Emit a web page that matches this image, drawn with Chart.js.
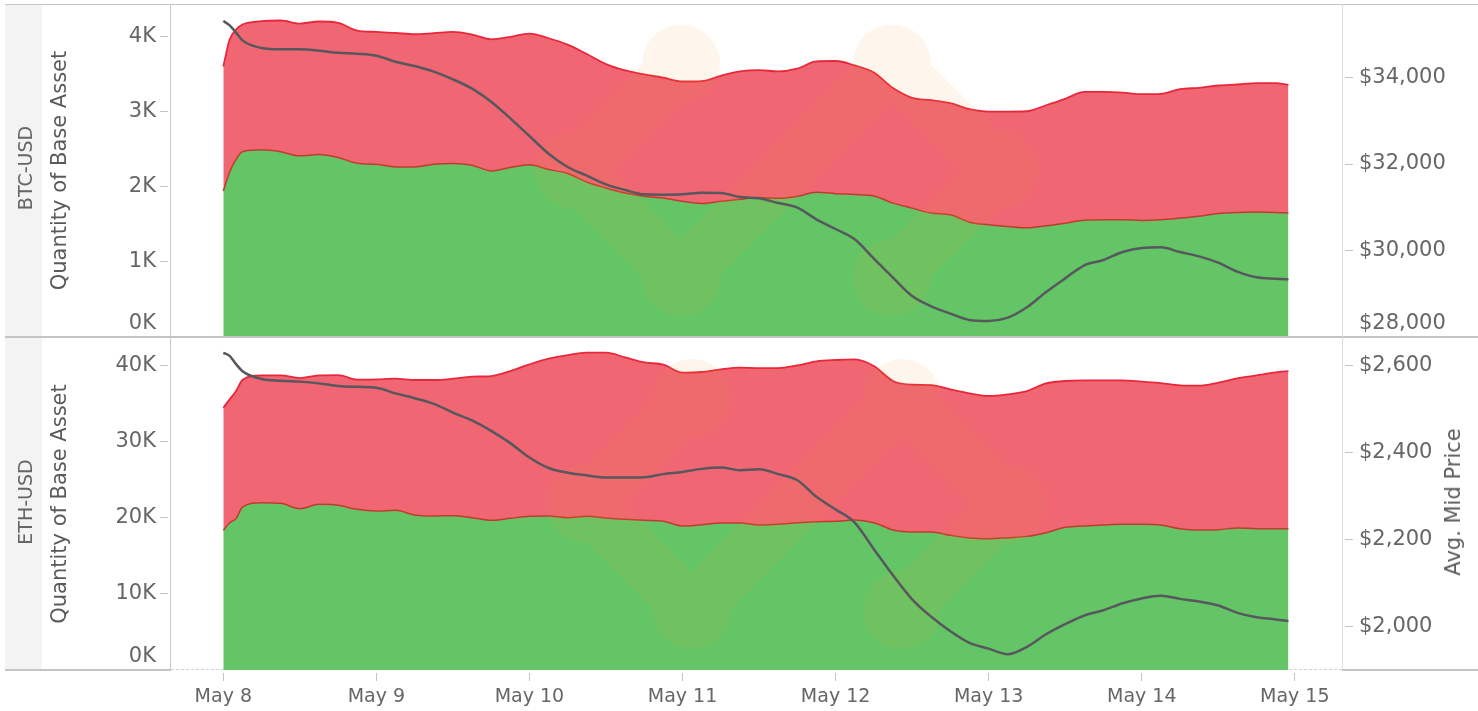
<!DOCTYPE html>
<html>
<head>
<meta charset="utf-8">
<script src="https://cdn.jsdelivr.net/npm/chart.js@4.4.1/dist/chart.umd.min.js"></script>
<style>
  html, body { margin: 0; padding: 0; background: #fff; }
  #wrap { position: relative; width: 1478px; height: 711px; overflow: hidden; font-family: "DejaVu Sans", sans-serif; }
  #wrap canvas { position: absolute; left: 0; }
  .strip { position: absolute; left: 5px; top: 4px; width: 37px; height: 666px; background: #f3f3f3; }
  .rule { position: absolute; background: #c4c4c4; z-index: 3; }
  .dashed { position: absolute; border-top: 1px dashed #d0d0d0; height: 0; }
  .vtext { position: absolute; white-space: nowrap; transform: translate(-50%, -50%) rotate(-90deg); z-index: 4; }
  .rowlabel { font-size: 19px; color: #666; }
  .axtitle { font-size: 21px; color: #5a5a5a; }
</style>
</head>
<body>
<div id="wrap">
  <div class="strip"></div>
  <div class="dashed" style="left:171px; top:669px; width:1171px;"></div>
  <canvas id="btc" width="1478" height="338" style="top:0"></canvas>
  <canvas id="eth" width="1478" height="374" style="top:337px"></canvas>

  <div class="rule" style="left:5px; top:4px; width:1473px; height:1px;"></div>
  <div class="rule" style="left:5px; top:336px; width:1473px; height:2px;"></div>
  <div class="rule" style="left:5px; top:669px; width:166px; height:2px;"></div>
  <div class="rule" style="left:1342px; top:669px; width:136px; height:2px;"></div>
  <div class="rule" style="left:170px; top:4px; width:1px; height:666px; background:#c8c8c8;"></div>
  <div class="rule" style="left:1342px; top:4px; width:1px; height:666px; background:#dcdcdc;"></div>

  <div class="vtext rowlabel" style="left:25px; top:168px;">BTC-USD</div>
  <div class="vtext rowlabel" style="left:25px; top:502px;">ETH-USD</div>
  <div class="vtext axtitle" style="left:1453px; top:502px;">Avg. Mid Price</div>
</div>
<script>
// hours since May 8 00:00
const hours = [0, 1, 2, 3, 6, 9, 12, 15, 18, 21, 24, 27, 30, 33, 36, 39, 42, 45, 48, 51,
  54, 57, 60, 63, 66, 69, 72, 75, 78, 81, 84, 87, 90, 93, 96, 99, 102, 105, 108, 111,
  114, 117, 120, 123, 126, 129, 132, 135, 138, 141, 144, 147, 150, 153, 156, 159, 162, 165, 167];

const dayTicks = [0, 24, 48, 72, 96, 120, 144, 168];
const dayLabels = ['May 8', 'May 9', 'May 10', 'May 11', 'May 12', 'May 13', 'May 14', 'May 15'];

// BTC-USD
const btcBid = [1944, 2198, 2364, 2466, 2492, 2466, 2412, 2431, 2391, 2314, 2301, 2265, 2265, 2301, 2310, 2288, 2211, 2257, 2292, 2230,
  2177, 2064, 1984, 1917, 1873, 1850, 1806, 1779, 1806, 1833, 1856, 1846, 1873, 1926, 1909, 1896, 1877, 1783, 1716, 1650,
  1628, 1529, 1494, 1472, 1454, 1481, 1516, 1556, 1561, 1561, 1552, 1561, 1583, 1609, 1645, 1659, 1663, 1659, 1650];
const btcAsk = [1659, 1762, 1730, 1695, 1713, 1748, 1762, 1770, 1792, 1766, 1761, 1784, 1766, 1744, 1752, 1739, 1753, 1739, 1748, 1748,
  1716, 1704, 1650, 1633, 1623, 1602, 1596, 1628, 1672, 1703, 1698, 1690, 1699, 1744, 1766, 1720, 1646, 1531, 1468, 1503,
  1485, 1504, 1507, 1529, 1552, 1605, 1655, 1708, 1703, 1694, 1681, 1676, 1717, 1709, 1704, 1703, 1717, 1721, 1708];
const btcMid = [35306, 35206, 35037, 34859, 34682, 34651, 34651, 34620, 34574, 34551, 34505, 34366, 34266, 34135, 33958, 33742, 33441, 33056, 32647, 32239,
  31931, 31730, 31530, 31399, 31298, 31291, 31298, 31337, 31329, 31237, 31206, 31098, 30990, 30721, 30497, 30258, 29811, 29372, 28948, 28709,
  28540, 28393, 28370, 28447, 28686, 29040, 29356, 29657, 29780, 29965, 30058, 30073, 29965, 29865, 29719, 29511, 29380, 29349, 29333];
const btcQtyTicks = [0, 1000, 2000, 3000, 4000];
const btcPriceTicks = [28000, 30000, 32000, 34000];

// ETH-USD
const ethBid = [18350, 19360, 19890, 21420, 21990, 21900, 21200, 21770, 21640, 21110, 20890, 20980, 20370, 20240, 20280, 20020, 19670, 19930, 20190, 20240,
  20020, 20190, 19970, 19800, 19670, 19540, 18920, 19100, 19320, 19320, 19050, 19140, 19360, 19490, 19540, 19710, 19360, 18400, 18130, 18130,
  17700, 17350, 17260, 17390, 17560, 18050, 18750, 18920, 19050, 19140, 19140, 19050, 18570, 18400, 18440, 18660, 18570, 18570, 18570];
const ethAsk = [16120, 16210, 16770, 16690, 16730, 16820, 17170, 16950, 17120, 17040, 17300, 17300, 17740, 17870, 18000, 18530, 18960, 19360, 19970, 20670,
  21370, 21510, 21730, 21280, 20760, 20580, 20150, 20060, 20190, 20410, 20630, 20540, 20670, 21070, 21200, 21110, 20590, 19580, 19370, 19320,
  19180, 19000, 18750, 18830, 19100, 19620, 19230, 19140, 19010, 18920, 18750, 18660, 18840, 18960, 19320, 19670, 20150, 20540, 20720];
const ethMid = [2628, 2621, 2602, 2586, 2568, 2564, 2562, 2558, 2552, 2550, 2548, 2535, 2524, 2511, 2491, 2473, 2449, 2421, 2388, 2364,
  2353, 2347, 2342, 2342, 2343, 2350, 2355, 2362, 2365, 2359, 2361, 2350, 2336, 2298, 2269, 2239, 2178, 2118, 2063, 2023,
  1990, 1963, 1950, 1937, 1954, 1983, 2006, 2026, 2038, 2054, 2065, 2071, 2064, 2058, 2049, 2032, 2022, 2017, 2013];
const ethQtyTicks = [0, 10000, 20000, 30000, 40000];
const ethPriceTicks = [2000, 2200, 2400, 2600];

const FONT = 'DejaVu Sans';
const TEXT = '#666';
const TICK_GREY = '#c4c4c4';

const xy = (values) => values.map((v, i) => ({x: hours[i], y: v}));
const fixedTicks = (values) => (s) => { s.ticks = values.map((v) => ({value: v})); };

// faint "</>" logo behind the price line, drawn opaque offscreen then blended once
const watermark = {
  id: 'watermark',
  beforeDatasetDraw(chart, args, opts) {
    if (args.index !== 0) return;
    const a = chart.chartArea;
    const cy = (a.top + a.bottom) / 2;
    const x1 = a.left + opts.dx1;
    const x2 = a.left + opts.dx2;
    const r = opts.r;
    const pts = [
      [x1, cy - r], [x1 - r, cy], [x1, cy + r],
      [x2, cy - r], [x2 + r, cy], [x2, cy + r],
    ];
    const off = document.createElement('canvas');
    off.width = chart.width;
    off.height = chart.height;
    const o = off.getContext('2d');
    o.strokeStyle = o.fillStyle = 'rgb(235, 155, 45)';
    o.lineWidth = 54;
    o.lineCap = 'round';
    o.lineJoin = 'round';
    o.beginPath();
    pts.forEach(([x, y], i) => (i ? o.lineTo(x, y) : o.moveTo(x, y)));
    o.stroke();
    pts.forEach(([x, y]) => { o.beginPath(); o.arc(x, y, 39, 0, Math.PI * 2); o.fill(); });

    const ctx = chart.ctx;
    ctx.save();
    ctx.beginPath();
    ctx.rect(a.left, a.top, a.right - a.left, a.bottom - a.top);
    ctx.clip();
    ctx.globalAlpha = 0.09;
    ctx.drawImage(off, 0, 0);
    ctx.restore();
  }
};

function makeChart(id, p) {
  return new Chart(document.getElementById(id), {
    type: 'line',
    data: {
      datasets: [
        {
          label: 'Avg. Mid Price',
          data: xy(p.mid),
          yAxisID: 'price',
          borderColor: '#57575e',
          borderWidth: 2.5,
          fill: false,
        },
        {
          label: 'Bid',
          data: xy(p.bid),
          yAxisID: 'qty',
          backgroundColor: '#64c566',
          borderColor: '#c23a2e',
          borderWidth: 1.5,
          fill: 'origin',
        },
        {
          label: 'Ask',
          data: xy(p.ask),
          yAxisID: 'qty',
          backgroundColor: '#f06673',
          borderColor: '#e8283a',
          borderWidth: 1.8,
          fill: '-1',
        },
      ],
    },
    options: {
      responsive: false,
      animation: false,
      devicePixelRatio: 1,
      layout: {
        autoPadding: false,
        padding: {top: p.padTop, bottom: p.padBottom, left: 42, right: 0},
      },
      elements: {
        point: {radius: 0},
        line: {cubicInterpolationMode: 'monotone'},
      },
      plugins: {
        legend: {display: false},
        tooltip: {enabled: false},
        watermark: {dx1: p.dx1, dx2: p.dx2, r: p.r},
      },
      scales: {
        x: {
          type: 'linear',
          min: -8.2,
          max: 175.4,
          display: p.showX,
          afterBuildTicks: fixedTicks(dayTicks),
          afterFit: (s) => {
            if (p.showX) s.height = 41;
            s.paddingLeft = 0;
            s.paddingRight = 0;
          },
          border: {display: false},
          grid: {drawOnChartArea: false, tickLength: 11, color: TICK_GREY, tickBorderDash: [8, 3], tickBorderDashOffset: 8},
          ticks: {
            autoSkip: false,
            maxRotation: 0,
            padding: 5,
            color: TEXT,
            font: {family: FONT, size: 19},
            callback: (v) => dayLabels[dayTicks.indexOf(v)],
          },
        },
        qty: {
          position: 'left',
          stacked: true,
          min: 0,
          max: p.qtyMax,
          afterBuildTicks: fixedTicks(p.qtyTicks),
          afterFit: (s) => { s.width = 129; s.paddingTop = 0; s.paddingBottom = 0; },
          border: {display: false},
          grid: {drawOnChartArea: false, tickLength: 11, color: TICK_GREY, tickBorderDash: [8, 3]},
          ticks: {
            padding: 4,
            color: TEXT,
            font: {family: FONT, size: 21, lineHeight: 1.3},
            callback: (v) => v === 0 ? ['0K', ''] : (v / 1000) + 'K',
          },
          title: {
            display: true,
            text: 'Quantity of Base Asset',
            color: '#5a5a5a',
            font: {family: FONT, size: 21},
            padding: {top: 6, bottom: 0},
          },
        },
        price: {
          position: 'right',
          min: p.priceMin,
          max: p.priceMax,
          afterBuildTicks: fixedTicks(p.priceTicks),
          afterFit: (s) => { s.width = 136; s.paddingTop = 0; s.paddingBottom = 0; },
          border: {display: false},
          grid: {drawOnChartArea: false, tickLength: 11, color: TICK_GREY, tickBorderDash: [8, 3], tickBorderDashOffset: 8},
          ticks: {
            padding: 6,
            color: TEXT,
            font: {family: FONT, size: 21, lineHeight: 1.3},
            callback: (v) => {
              const s = '$' + v.toLocaleString('en-US');
              return v === p.priceMin ? [s, ''] : s;
            },
          },
        },
      },
    },
    plugins: [watermark],
  });
}

makeChart('btc', {
  bid: btcBid, ask: btcAsk, mid: btcMid,
  qtyMax: 4434, qtyTicks: btcQtyTicks,
  priceMin: 28000, priceMax: 35700, priceTicks: btcPriceTicks,
  padTop: 4, padBottom: 1, showX: false,
  dx1: 510, dx2: 721, r: 107,
});

makeChart('eth', {
  bid: ethBid, ask: ethAsk, mid: ethMid,
  qtyMax: 43630, qtyTicks: ethQtyTicks,
  priceMin: 1901, priceMax: 2662, priceTicks: ethPriceTicks,
  padTop: 1, padBottom: 0, showX: true,
  dx1: 521, dx2: 731, r: 106,
});
</script>
</body>
</html>
